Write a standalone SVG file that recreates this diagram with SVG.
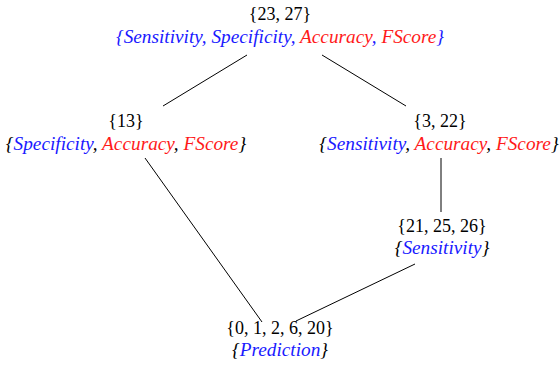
<svg xmlns="http://www.w3.org/2000/svg" width="560" height="366" viewBox="0 0 560 366">
<rect width="560" height="366" fill="#fff"/>
<g id="connectors" stroke="#000" stroke-width="1" fill="none">
<line x1="247" y1="55" x2="163" y2="106"/>
<line x1="322" y1="55" x2="406" y2="106"/>
<line x1="145" y1="158" x2="262" y2="322"/>
<line x1="441" y1="158" x2="441" y2="212"/>
<line x1="415" y1="264" x2="296" y2="321"/>
</g>
<g font-family="Liberation Serif" font-size="18" text-anchor="middle" fill="#000">
<g id="n_23_27">
<text x="280" y="20">{23, 27}</text>
<text font-style="italic" font-size="19.3" fill="#1a1aff" x="280" y="43">{Sensitivity, Specificity, <tspan fill="#ff1a1a">Accuracy</tspan>, <tspan fill="#ff1a1a">FScore</tspan>}</text>
</g>
<g id="n_13">
<text x="126" y="127">{13}</text>
<text font-style="italic" font-size="19.3" x="126" y="150">{<tspan fill="#1a1aff">Specificity</tspan>, <tspan fill="#ff1a1a">Accuracy</tspan>, <tspan fill="#ff1a1a">FScore</tspan>}</text>
</g>
<g id="n_3_22">
<text x="440" y="127">{3, 22}</text>
<text font-style="italic" font-size="19.3" x="439" y="150">{<tspan fill="#1a1aff">Sensitivity</tspan>, <tspan fill="#ff1a1a">Accuracy</tspan>, <tspan fill="#ff1a1a">FScore</tspan>}</text>
</g>
<g id="n_21_25_26">
<text x="442" y="232">{21, 25, 26}</text>
<text font-style="italic" font-size="19.3" x="442" y="254">{<tspan fill="#1a1aff">Sensitivity</tspan>}</text>
</g>
<g id="n_0_1_2_6_20">
<text x="280" y="334">{0, 1, 2, 6, 20}</text>
<text font-style="italic" font-size="19.3" x="280" y="356">{<tspan fill="#1a1aff">Prediction</tspan>}</text>
</g>
</g>
</svg>
